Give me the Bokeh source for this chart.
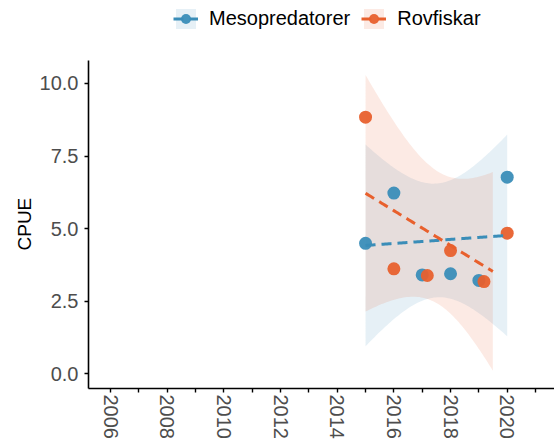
import numpy as np
from bokeh.plotting import figure
from bokeh.models import (Range1d, FixedTicker, Legend, LegendItem, ColumnDataSource,
                          NumeralTickFormatter, Title)
from bokeh.embed import file_html
from bokeh.resources import INLINE

# ---- data ----
years_meso = [2015, 2016, 2017, 2018, 2019, 2020]
cpue_meso = [4.49, 6.22, 3.40, 3.44, 3.21, 6.77]
years_rov = [2015, 2016, 2017.18, 2018, 2019.18, 2020]
cpue_rov = [8.84, 3.61, 3.38, 4.24, 3.17, 4.84]
series_names = ["Mesopredatorer", "Rovfiskar"]
x_ticks = list(range(2006, 2022))
y_ticks = [0, 2.5, 5, 7.5, 10]

BLUE = "#3A8DB8"
ORANGE = "#E8602D"
T975_DF4 = 2.7764  # Student t quantile for 95% CI, 4 df
Y_LOWER_LIMIT = 0.0
FONT = "Liberation Sans"

# axis extents (ggplot-style expanded limits); extra room above for the legend
Y_AXIS_BOUNDS = (-0.517, 10.78)
Y_VIEW = (-0.517, 12.862)
X_VIEW = (2005.22, 2021.67)


def lm_band(x, y, n_grid=80):
    x = np.asarray(x, float)
    y = np.asarray(y, float)
    n = len(x)
    xm, ym = x.mean(), y.mean()
    sxx = ((x - xm) ** 2).sum()
    b = ((x - xm) * (y - ym)).sum() / sxx
    a = ym - b * xm
    s = np.sqrt(((y - (a + b * x)) ** 2).sum() / (n - 2))
    g = np.linspace(x.min(), x.max(), n_grid)
    fit = a + b * g
    se = s * np.sqrt(1.0 / n + (g - xm) ** 2 / sxx)
    lo, hi = fit - T975_DF4 * se, fit + T975_DF4 * se
    keep = lo >= Y_LOWER_LIMIT
    return dict(x=g[keep], fit=fit[keep], lo=lo[keep], hi=hi[keep])


series = [(series_names[0], years_meso, cpue_meso, BLUE),
          (series_names[1], years_rov, cpue_rov, ORANGE)]

p = figure(width=554, height=443, output_backend="svg", toolbar_location=None,
           x_range=Range1d(*X_VIEW), y_range=Range1d(*Y_VIEW),
           min_border_left=88, min_border_right=0, min_border_top=0,
           min_border_bottom=55)
p.outline_line_color = None
p.xgrid.visible = False
p.ygrid.visible = False

renderers = {n: [] for n in series_names}
bands = {n: ColumnDataSource(lm_band(xs, ys)) for n, xs, ys, _ in series}
for name, xs, ys, col in series:
    renderers[name].append(p.varea(x="x", y1="lo", y2="hi", source=bands[name],
                                   fill_color=col, fill_alpha=0.13))
for name, xs, ys, col in series:
    renderers[name].append(p.scatter(x=xs, y=ys, size=13, fill_color=col,
                                     line_color=None, fill_alpha=0.95))
for name, xs, ys, col in series:
    renderers[name].insert(1, p.line(x="x", y="fit", source=bands[name], line_color=col,
                                     line_width=3, line_dash="10 6"))

for ax in (p.xaxis[0], p.yaxis[0]):
    ax.axis_line_color = "black"
    ax.axis_line_width = 1.6
    ax.major_tick_line_color = "black"
    ax.major_tick_line_width = 1.4
    ax.major_tick_out = 4
    ax.major_tick_in = 0
    ax.minor_tick_line_color = None
    ax.major_label_text_font = FONT
    ax.major_label_text_font_size = "20px"
    ax.major_label_text_color = "#4D4D4D"

p.yaxis.ticker = FixedTicker(ticks=y_ticks)
p.yaxis.formatter = NumeralTickFormatter(format="0.0")
p.yaxis.major_label_standoff = 6
p.yaxis.bounds = Y_AXIS_BOUNDS

p.xaxis.ticker = FixedTicker(ticks=x_ticks)
p.xaxis.major_label_overrides = {t: (str(t) if t % 2 == 0 else "") for t in x_ticks}
p.xaxis.major_label_orientation = "vertical"
p.xaxis.major_label_standoff = 2

# y-axis title, placed along the drawn axis (not the taller frame)
ytitle = Title(text="CPUE", align="left", offset=138, standoff=4,
               text_font=FONT, text_font_size="19px", text_font_style="normal",
               text_color="black")
p.add_layout(ytitle, "left")

items = [LegendItem(label=n, renderers=renderers[n]) for n in series_names]
legend = Legend(items=items, orientation="horizontal", location=(85, 357),
                glyph_width=25, glyph_height=25, label_standoff=11, spacing=11,
                padding=0, margin=0, border_line_color=None,
                background_fill_alpha=0, label_text_font=FONT,
                label_text_font_size="20px", label_text_color="black")
p.add_layout(legend, "center")

open("out.html", "w").write(file_html(p, INLINE))
